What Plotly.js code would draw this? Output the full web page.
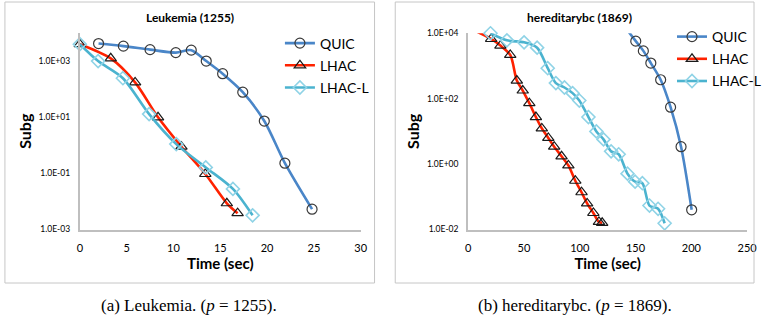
<!DOCTYPE html>
<html>
<head>
<meta charset="utf-8">
<script src="https://cdn.plot.ly/plotly-3.0.1.min.js"></script>
<style>html,body{margin:0;padding:0;background:#fff;}#chart{width:766px;height:324px;}</style>
</head>
<body>
<div id="chart"></div>
<script>
// ---- Data: Leukemia (1255) ----
const seriesNames = ['QUIC', 'LHAC', 'LHAC-L'];
const leukQuicT = [2.0, 4.65, 7.5, 10.25, 11.9, 13.5, 15.25, 17.4, 19.7, 21.9, 24.8];
const leukQuicV = [4200, 3400, 2550, 2000, 2450, 1000, 355, 78, 7.3, 0.23, 0.0053];
const leukLhacT = [0, 3.3, 5.9, 8.35, 10.85, 13.4, 15.7, 16.85];
const leukLhacV = [4000, 1250, 174, 9.9, 0.89, 0.095, 0.0086, 0.0038];
const leukLhaclT = [0, 1.95, 4.6, 7.4, 10.3, 13.45, 16.35, 18.45];
const leukLhaclV = [4000, 1000, 245, 12.9, 1.1, 0.163, 0.028, 0.0032];
const leukYTickVals = [0.001, 0.1, 10, 1000];
const leukYTickText = ['1.0E-03', '1.0E-01', '1.0E+01', '1.0E+03'];

// ---- Data: hereditarybc (1869) ----
const hbcQuicT = [136, 150.2, 157, 163.7, 172.5, 181.4, 190.8, 200.3];
const hbcQuicV = [25000, 5750, 2900, 1230, 380, 55, 3.4, 0.04];
const hbcLhacT = [-10, 20.6, 28.9, 37.7, 43.6, 48.9, 54.8, 60.7, 66, 71.8, 77.1, 83.7, 89.8, 96, 101.6, 106.6, 112.2, 117.2, 120.1];
const hbcLhacV = [22000, 6700, 4200, 2180, 359, 178, 73, 27.5, 12.3, 6.3, 3.4, 1.73, 0.91, 0.31, 0.138, 0.063, 0.032, 0.017, 0.016];
const hbcLhaclT = [20, 34.7, 50.1, 61.8, 71.3, 78.6, 86.3, 93.6, 99.6, 107.8, 114.9, 121.3, 128.1, 134.9, 142.8, 149.6, 156.1, 162.5, 170.2, 176.1];
const hbcLhaclV = [10000, 6100, 5300, 3630, 855, 300, 220, 148, 88, 27.5, 10, 5.7, 2.45, 2.0, 0.51, 0.29, 0.26, 0.054, 0.043, 0.0155];
const hbcYTickVals = [0.01, 1, 100, 10000];
const hbcYTickText = ['1.0E-02', '1.0E+00', '1.0E+02', '1.0E+04'];

const titles = ['Leukemia (1255)', 'hereditarybc (1869)'];
const captions = ['(a) Leukemia. (<i>p</i> = 1255).', '(b) hereditarybc. (<i>p</i> = 1869).'];

// ---- Styles ----
const W = 766, H = 324;
const px = v => v / W, py = v => 1 - v / H;
const FONT = 'Lato, "Open Sans", sans-serif';
const styles = [
  {line: '#4A86C8', sym: 'circle-open', mcol: '#3a3a3a', size: 10, mw: 1.2},
  {line: '#FF2200', sym: 'triangle-up-open', mcol: '#1a1a1a', size: 10, mw: 1.2},
  {line: '#4BB3CF', sym: 'diamond-open', mcol: '#8fd3e6', size: 10, mw: 1.6}
];
function tr(x, y, i, xa, ya, leg, clip) {
  const s = styles[i];
  return {
    x: x, y: y, name: seriesNames[i], type: 'scatter', mode: 'lines+markers',
    xaxis: xa, yaxis: ya, legend: leg, legendgroup: leg + i, cliponaxis: clip,
    line: {color: s.line, width: 2.6, shape: 'spline', smoothing: 0.8},
    marker: {symbol: s.sym, color: s.mcol, size: s.size, line: {width: s.mw, color: s.mcol}}
  };
}
const data = [
  tr(leukQuicT, leukQuicV, 0, 'x', 'y', 'legend', false),
  tr(leukLhacT, leukLhacV, 1, 'x', 'y', 'legend', false),
  tr(leukLhaclT, leukLhaclV, 2, 'x', 'y', 'legend', false),
  tr(hbcQuicT, hbcQuicV, 0, 'x2', 'y2', 'legend2', true),
  tr(hbcLhacT, hbcLhacV, 1, 'x2', 'y2', 'legend2', true),
  tr(hbcLhaclT, hbcLhaclV, 2, 'x2', 'y2', 'legend2', false)
];

const axCommon = {
  showline: true, linecolor: '#bfbfbf', linewidth: 2, showgrid: false, zeroline: false,
  ticks: '', fixedrange: true
};
const xTitle = {text: 'Time (sec)', font: {family: FONT, size: 15, weight: 'bold', color: '#000'}, standoff: 3};
const yTitle = {text: 'Subg', font: {family: FONT, size: 16, weight: 'bold', color: '#000'}, standoff: 3};
const legCommon = {
  xanchor: 'left', yanchor: 'top', bgcolor: 'rgba(0,0,0,0)', borderwidth: 0,
  font: {family: FONT, size: 14, color: '#000'}, traceorder: 'grouped', tracegroupgap: 1
};

const layout = {
  width: W, height: H, margin: {l: 0, r: 0, t: 0, b: 0},
  paper_bgcolor: '#fff', plot_bgcolor: 'rgba(0,0,0,0)',
  font: {family: FONT, color: '#000'},
  showlegend: true,
  xaxis: Object.assign({}, axCommon, {domain: [px(81), px(366)], range: [0, 30], dtick: 5, anchor: 'y',
    ticklabelstandoff: 7, tickfont: {family: FONT, size: 11, color: '#000'}, title: xTitle}),
  yaxis: Object.assign({}, axCommon, {domain: [py(229.5), py(33)], type: 'log', range: [-3, 4], anchor: 'x',
    ticklabelstandoff: 6, tickvals: leukYTickVals, ticktext: leukYTickText, tickfont: {family: FONT, size: 8.5, color: '#000'}, title: yTitle}),
  xaxis2: Object.assign({}, axCommon, {domain: [px(475), px(758)], range: [0, 250], dtick: 50, anchor: 'y2',
    ticklabelstandoff: 7, tickfont: {family: FONT, size: 11, color: '#000'}, title: xTitle}),
  yaxis2: Object.assign({}, axCommon, {domain: [py(229.5), py(33.3)], type: 'log', range: [-2, 4], anchor: 'x2',
    ticklabelstandoff: 6, tickvals: hbcYTickVals, ticktext: hbcYTickText, tickfont: {family: FONT, size: 8.5, color: '#000'}, title: yTitle}),
  legend: Object.assign({}, legCommon, {x: px(284), y: py(27.5)}),
  legend2: Object.assign({}, legCommon, {x: px(682), y: py(21)}),
  shapes: [
    {type: 'rect', xref: 'paper', yref: 'paper', x0: px(5), x1: px(380), y0: py(283), y1: py(2), line: {color: '#c6c6c6', width: 1}},
    {type: 'rect', xref: 'paper', yref: 'paper', x0: px(401), x1: px(765), y0: py(283), y1: py(2), line: {color: '#c6c6c6', width: 1}}
  ],
  annotations: [
    {text: titles[0], xref: 'paper', yref: 'paper', x: px(193), y: py(17), showarrow: false, xanchor: 'center', yanchor: 'middle',
      font: {family: FONT, size: 12, weight: 'bold', color: '#000'}},
    {text: titles[1], xref: 'paper', yref: 'paper', x: px(588), y: py(17), showarrow: false, xanchor: 'center', yanchor: 'middle',
      font: {family: FONT, size: 12, weight: 'bold', color: '#000'}},
    {text: captions[0], xref: 'paper', yref: 'paper', x: px(192), y: py(305), showarrow: false, xanchor: 'center', yanchor: 'middle',
      font: {family: '"Liberation Serif", "Times New Roman", serif', size: 17, color: '#000'}},
    {text: captions[1], xref: 'paper', yref: 'paper', x: px(583), y: py(305), showarrow: false, xanchor: 'center', yanchor: 'middle',
      font: {family: '"Liberation Serif", "Times New Roman", serif', size: 17, color: '#000'}}
  ]
};
Plotly.newPlot('chart', data, layout, {staticPlot: true, displayModeBar: false});
</script>
</body>
</html>
